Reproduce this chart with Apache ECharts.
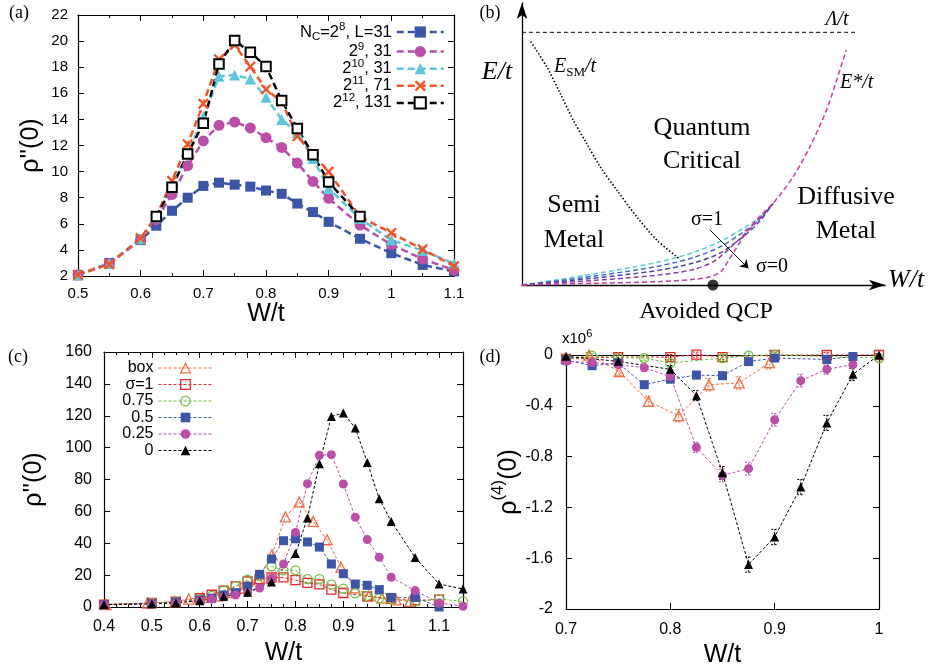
<!DOCTYPE html>
<html><head><meta charset="utf-8">
<script src="https://cdn.jsdelivr.net/npm/echarts@6/dist/echarts.min.js"></script>
<style>html,body{margin:0;padding:0;background:#fff}#c{width:928px;height:671px}</style>
</head><body><div id="c"></div>
<script>
// ================= DATA =================
// Panel (a): rho''(0) vs W/t
const aX = [0.5,0.55,0.6,0.625,0.65,0.675,0.7,0.725,0.75,0.775,0.8,0.825,0.85,0.875,0.9,0.95,1.0,1.05,1.1];
const aN8  = [2.05,3.0,4.75,5.85,7.0,8.0,8.9,9.15,9.0,8.85,8.55,8.3,7.55,6.9,6.15,4.85,3.75,2.85,2.35];
const aN9  = [2.1,2.95,4.8,6.3,8.25,10.45,12.35,13.55,13.8,13.35,12.6,11.85,10.65,9.25,7.95,5.9,4.4,3.3,2.45];
const aN10 = [2.1,2.95,4.85,6.5,8.8,11.4,14.2,17.3,17.4,17.1,15.7,14.0,13.0,11.0,8.7,6.4,4.75,3.95,2.95];
const aN11 = [2.1,2.9,4.9,6.6,9.3,12.1,15.2,18.6,19.7,18.05,16.3,15.35,12.7,11.3,10.0,6.55,5.3,4.05,2.75];
const aX12 = [0.625,0.65,0.675,0.7,0.725,0.75,0.775,0.8,0.825,0.85,0.875,0.9,0.95];
const aN12 = [6.55,8.8,11.35,13.7,18.25,20.05,19.15,18.05,15.45,13.3,11.3,9.2,6.55];

// Panel (b): schematic curves (normalised units)
const lamX = [0, 0.92], lamY = [0.896, 0.896];
const esmX = [0.024,0.068,0.105,0.141,0.178,0.215,0.261,0.316,0.371,0.431];
const esmY = [0.863,0.774,0.680,0.585,0.502,0.420,0.337,0.242,0.160,0.095];
const bs1X  = [0,0.105,0.196,0.288,0.380,0.472,0.545,0.610,0.656,0.692];
const bs1Y  = [0,0.020,0.039,0.059,0.083,0.115,0.154,0.201,0.242,0.290];
const bs075Y= [0,0.016,0.031,0.048,0.068,0.097,0.135,0.188,0.236,0.290];
const bs05Y = [0,0.012,0.024,0.037,0.053,0.078,0.113,0.172,0.228,0.290];
const bs025X= [0,0.105,0.196,0.288,0.380,0.472,0.530,0.580,0.640,0.692];
const bs025Y= [0,0.008,0.016,0.025,0.036,0.055,0.085,0.140,0.215,0.290];
const bs0X  = [0,0.196,0.380,0.472,0.520,0.550,0.567,0.590,0.620,0.656,0.692,0.747,0.793,0.839,0.867,0.893];
const bs0Y  = [0,0.006,0.012,0.020,0.030,0.050,0.083,0.130,0.190,0.245,0.290,0.384,0.490,0.621,0.727,0.833];
const arrowX = [0.518, 0.624], arrowY = [0.195, 0.059];
const qcpX = [0.526], qcpY = [0];

// Panel (c): rho''(0) vs W/t for different sigma
const cBoxX = [0.404,0.491,0.548,0.577,0.606,0.635,0.664,0.693,0.722,0.751,0.779,0.808,0.837,0.866,0.895,0.924,0.953,0.981,1.010,1.039];
const cBoxY = [1.5,2.5,3.3,5,6,7,9,12,17,32.8,56.5,65.9,53.7,42.2,25.1,12,7,5.6,4.5,3.5];
const cS1X  = [0.4,0.5,0.55,0.6,0.625,0.65,0.675,0.7,0.725,0.75,0.775,0.8,0.825,0.85,0.875,0.9,0.95,1.0,1.05,1.1];
const cS1Y  = [1.5,2.5,3.3,5.5,7.7,10.2,12.9,16,17.5,18.5,18.6,16.9,15.2,14.2,10.9,8.8,6.7,5.2,4.1,4.6];
const cS075X= [0.4,0.5,0.55,0.6,0.625,0.65,0.675,0.7,0.725,0.75,0.775,0.8,0.825,0.85,0.875,0.9,0.925,0.95,0.975,1.0,1.05,1.1,1.15];
const cS075Y= [1.5,2.5,3.3,5,7,10.4,12.9,17.1,19.5,25.5,23,23,17.5,17.5,14,11.5,8.5,7,5.5,5,3.5,5,3.5];
const cS05X = [0.4,0.5,0.55,0.6,0.625,0.65,0.675,0.7,0.725,0.75,0.775,0.8,0.825,0.85,0.875,0.9,0.925,0.95,0.975,1.0,1.05,1.1];
const cS05Y = [1.5,2,3,4.5,5.5,7.5,9,13,20.5,30.1,41.6,42.8,40.8,37.6,27,20.9,14.4,13.6,10.9,6,6,0];
const cS025X= [0.4,0.5,0.55,0.6,0.625,0.65,0.675,0.7,0.725,0.75,0.775,0.8,0.825,0.85,0.875,0.9,0.925,0.95,0.975,1.0,1.05,1.1,1.15];
const cS025Y= [1.5,2,2.5,4,5,6.3,7.5,9,11.9,18,27,46.8,77.4,95.2,95.6,77.2,56.3,42.3,31.2,18.7,10.3,2.5,0.5];
const cS0X  = [0.4,0.5,0.55,0.6,0.65,0.7,0.75,0.8,0.825,0.85,0.875,0.9,0.925,0.95,0.975,1.0,1.05,1.1,1.15];
const cS0Y  = [1.5,2,2.5,4,6.7,9.2,15.7,33.5,55.8,89.9,119.6,121.7,112.3,90.7,67.9,53.7,31.1,14.4,11.3];

// Panel (d): rho^(4)(0) (x10^6) vs W/t, with error bars
const dBoxX = [0.722,0.751,0.779,0.808,0.837,0.866,0.895];
const dBoxY = [0.0,-0.13,-0.365,-0.478,-0.234,-0.22,-0.06];
const dBoxE = [0.02,0.03,0.04,0.05,0.05,0.05,0.05];
const dS1X  = [0.7,0.75,0.8,0.825,0.85,0.9,0.95,1.0];
const dS1Y  = [-0.03,-0.016,-0.016,0.003,-0.016,0.0,0.0,0.0];
const dS1E  = [0.02,0.02,0.02,0.02,0.02,0.02,0.02,0.01];
const dS075X= [0.7,0.725,0.75,0.775,0.8,0.85,0.875,0.9,1.0];
const dS075Y= [-0.03,-0.005,-0.02,-0.024,-0.063,-0.024,-0.005,0.0,-0.024];
const dS075E= [0.02,0.02,0.02,0.02,0.02,0.02,0.02,0.02,0.01];
const dS05X = [0.7,0.725,0.75,0.775,0.8,0.825,0.85,0.875,0.9,0.95,0.975];
const dS05Y = [-0.04,-0.084,-0.063,-0.234,-0.19,-0.158,-0.163,-0.052,-0.024,-0.035,-0.012];
const dS05E = [0.02,0.02,0.02,0.03,0.03,0.03,0.03,0.02,0.02,0.02,0.02];
const dS025X= [0.7,0.725,0.75,0.775,0.8,0.825,0.85,0.875,0.9,0.925,0.95,0.975];
const dS025Y= [-0.05,-0.06,-0.075,-0.1,-0.17,-0.727,-0.948,-0.895,-0.51,-0.202,-0.112,-0.076];
const dS025E= [0.02,0.02,0.02,0.03,0.03,0.04,0.05,0.05,0.05,0.05,0.04,0.03];
const dS0X  = [0.7,0.75,0.8,0.825,0.85,0.875,0.9,0.925,0.95,0.975,1.0];
const dS0Y  = [-0.01,-0.05,-0.113,-0.32,-0.928,-1.65,-1.433,-1.04,-0.535,-0.152,0.0];
const dS0E  = [0.01,0.02,0.03,0.04,0.05,0.06,0.06,0.06,0.06,0.05,0.01];

// ================= STYLE =================
const FONT = 'Liberation Sans', SERIF = 'Liberation Serif';
const C_BLUE = '#3d55a6', C_MAG = '#b94fa6', C_CYAN = '#5ec6dc', C_ORG = '#f0552a', C_BLK = '#000';
const C_BOX = '#f26a3c', C_RED = '#e8262c', C_GRN = '#72bd42';
const B_COLS = ['#5cc8e0', '#3a6cc4', '#4a48a6', '#8c3fa8', '#c8389e'];
const XSYM = 'path://M0,1.5L1.5,0L5,3.5L8.5,0L10,1.5L6.5,5L10,8.5L8.5,10L5,6.5L1.5,10L0,8.5L3.5,5Z';

const pts = (xs, ys) => xs.map((x, i) => [x, ys[i]]);

function axisPair(dim, gridIndex, cfg) {
  const main = {
    type: 'value', gridIndex, min: cfg.min, max: cfg.max, interval: cfg.interval,
    position: dim === 'x' ? 'bottom' : 'left',
    axisLine: { show: true, onZero: false, lineStyle: { color: '#000', width: 1.2 } },
    axisTick: { show: true, inside: true, length: 6, lineStyle: { color: '#000', width: 1 } },
    minorTick: { show: !!cfg.minor, splitNumber: cfg.minor || 5, length: 3, lineStyle: { color: '#000', width: 1 } },
    axisLabel: { show: true, color: '#000', fontSize: cfg.fs, fontFamily: FONT, margin: cfg.margin, showMaxLabel: cfg.showMax !== false },
    splitLine: { show: false }, minorSplitLine: { show: false },
    name: cfg.name, nameLocation: 'middle', nameGap: cfg.nameGap,
    nameTextStyle: Object.assign({ color: '#000', fontFamily: FONT, fontSize: 25 }, cfg.nameStyle || {})
  };
  const mirror = {
    type: 'value', gridIndex, min: cfg.min, max: cfg.max, interval: cfg.interval,
    position: dim === 'x' ? 'top' : 'right',
    axisLine: { show: true, onZero: false, lineStyle: { color: '#000', width: 1.2 } },
    axisTick: { show: true, inside: true, length: 6, lineStyle: { color: '#000', width: 1 } },
    minorTick: { show: !!cfg.minor, splitNumber: cfg.minor || 5, length: 3, lineStyle: { color: '#000', width: 1 } },
    axisLabel: { show: false }, splitLine: { show: false }
  };
  return [main, mirror];
}

const bAxisCommon = {
  type: 'value', gridIndex: 1, min: 0, max: 1,
  axisLine: { show: true, onZero: false, symbol: ['none', 'arrow'], symbolSize: [8, 16], lineStyle: { color: '#000', width: 1.3 } },
  axisTick: { show: false }, axisLabel: { show: false }, splitLine: { show: false }
};

const xAxes = [].concat(
  axisPair('x', 0, { min: 0.5, max: 1.1, interval: 0.1, minor: 2, fs: 15, margin: 10, name: 'W/t', nameGap: 26 }),
  [Object.assign({}, bAxisCommon)],
  axisPair('x', 2, { min: 0.4, max: 1.15, interval: 0.1, minor: 4, fs: 16, margin: 12, showMax: false, name: 'W/t', nameGap: 34 }),
  axisPair('x', 3, { min: 0.7, max: 1.0, interval: 0.1, fs: 16, margin: 13, name: 'W/t', nameGap: 34 })
);
const yAxes = [].concat(
  axisPair('y', 0, { min: 2, max: 22, interval: 2, fs: 15, margin: 10, name: "ρ''(0)", nameGap: 34, nameStyle: { fontSize: 25 } }),
  [Object.assign({}, bAxisCommon)],
  axisPair('y', 2, { min: 0, max: 160, interval: 20, fs: 16, margin: 12, name: "ρ''(0)", nameGap: 57, nameStyle: { fontSize: 25 } }),
  axisPair('y', 3, { min: -2, max: 0, interval: 0.4, fs: 16, margin: 13, name: '{t|ρ}{s|(4)}{t|(0)}', nameGap: 44,
    nameStyle: { fontSize: 25, rich: {
      t: { fontSize: 25, fontFamily: FONT, color: '#000', lineHeight: 32, verticalAlign: 'bottom' },
      s: { fontSize: 17, fontFamily: FONT, color: '#000', lineHeight: 17, verticalAlign: 'top' } } } })
);

function lineA(name, xs, ys, color, symbol, size, extra) {
  return Object.assign({
    type: 'line', name, xAxisIndex: 0, yAxisIndex: 0, data: pts(xs, ys),
    symbol, symbolSize: size, showAllSymbol: true,
    lineStyle: { color, width: 2.5, type: [7, 4] },
    itemStyle: { color }
  }, extra || {});
}

function lineC(name, xs, ys, color, symbol, size, hollow, axis) {
  return {
    type: 'line', name, xAxisIndex: axis, yAxisIndex: axis, data: pts(xs, ys),
    symbol, symbolSize: size, showAllSymbol: true,
    lineStyle: { color, width: 1, type: [3, 2] },
    itemStyle: hollow ? { color: 'rgba(255,255,255,0)', borderColor: color, borderWidth: 1.3 } : { color }
  };
}

function errSeries(xs, ys, es, color) {
  return {
    type: 'custom', xAxisIndex: 5, yAxisIndex: 5, z: 1,
    data: xs.map((x, i) => [x, ys[i], es[i]]),
    encode: { x: 0, y: 1 },
    renderItem(params, api) {
      const x = api.value(0), y = api.value(1), e = api.value(2);
      const p0 = api.coord([x, y - e]), p1 = api.coord([x, y + e]);
      const w = 3.5, st = { stroke: color, lineWidth: 1, lineDash: [2, 1.5] };
      return { type: 'group', children: [
        { type: 'line', shape: { x1: p0[0], y1: p0[1], x2: p1[0], y2: p1[1] }, style: st },
        { type: 'line', shape: { x1: p0[0] - w, y1: p0[1], x2: p0[0] + w, y2: p0[1] }, style: st },
        { type: 'line', shape: { x1: p1[0] - w, y1: p1[1], x2: p1[0] + w, y2: p1[1] }, style: st }
      ] };
    }
  };
}

function bLine(xs, ys, color, type, width) {
  return { type: 'line', xAxisIndex: 2, yAxisIndex: 2, data: pts(xs, ys), symbol: 'none', smooth: 0.3,
    clip: false, silent: true, lineStyle: { color, width, type } };
}

const aLabels = {
  a1: '{t|N}{sub|C}{t|=2}{sup|8}{t|, L=31}',
  a2: '{t|2}{sup|9}{t|, 31}',
  a3: '{t|2}{sup|10}{t|, 31}',
  a4: '{t|2}{sup|11}{t|, 71}',
  a5: '{t|2}{sup|12}{t|, 131}'
};

const series = [
  // (a)
  lineA('a1', aX, aN8, C_BLUE, 'rect', 10),
  lineA('a2', aX, aN9, C_MAG, 'circle', 11),
  lineA('a3', aX, aN10, C_CYAN, 'triangle', 11),
  lineA('a4', aX, aN11, C_ORG, XSYM, 11),
  lineA('a5', aX12, aN12, C_BLK, 'emptyRect', 9.5),
  // (b)
  bLine(lamX, lamY, '#000', [4, 3], 1),
  bLine(esmX, esmY, '#000', [1.5, 2], 1.6),
  bLine(bs1X, bs1Y, B_COLS[0], [5, 3], 1.5),
  bLine(bs1X, bs075Y, B_COLS[1], [5, 3], 1.5),
  bLine(bs1X, bs05Y, B_COLS[2], [5, 3], 1.5),
  bLine(bs025X, bs025Y, B_COLS[3], [5, 3], 1.5),
  Object.assign(bLine(bs0X, bs0Y, B_COLS[4], [5, 3], 1.5), {
    markLine: { silent: true, symbol: ['none', 'arrow'], symbolSize: 8, label: { show: false },
      lineStyle: { color: '#000', type: 'solid', width: 1 },
      data: [[{ coord: [arrowX[0], arrowY[0]] }, { coord: [arrowX[1], arrowY[1]] }]] }
  }),
  { type: 'scatter', xAxisIndex: 2, yAxisIndex: 2, data: pts(qcpX, qcpY), symbolSize: 11, clip: false, silent: true, itemStyle: { color: '#000' } },
  // (c)
  lineC('box', cBoxX, cBoxY, C_BOX, 'triangle', 10, true, 3),
  lineC('σ=1', cS1X, cS1Y, C_RED, 'rect', 9, true, 3),
  lineC('0.75', cS075X, cS075Y, C_GRN, 'circle', 9, true, 3),
  lineC('0.5', cS05X, cS05Y, C_BLUE, 'rect', 9, false, 3),
  lineC('0.25', cS025X, cS025Y, C_MAG, 'circle', 9, false, 3),
  lineC('0', cS0X, cS0Y, C_BLK, 'triangle', 9, false, 3),
  // (d) error bars
  errSeries(dBoxX, dBoxY, dBoxE, C_BOX),
  errSeries(dS1X, dS1Y, dS1E, C_RED),
  errSeries(dS075X, dS075Y, dS075E, C_GRN),
  errSeries(dS05X, dS05Y, dS05E, C_BLUE),
  errSeries(dS025X, dS025Y, dS025E, C_MAG),
  errSeries(dS0X, dS0Y, dS0E, C_BLK),
  // (d) lines
  lineC('d-box', dBoxX, dBoxY, C_BOX, 'triangle', 10, true, 5),
  lineC('d-1', dS1X, dS1Y, C_RED, 'rect', 9, true, 5),
  lineC('d-0.75', dS075X, dS075Y, C_GRN, 'circle', 9, true, 5),
  lineC('d-0.5', dS05X, dS05Y, C_BLUE, 'rect', 9, false, 5),
  lineC('d-0.25', dS025X, dS025Y, C_MAG, 'circle', 9, false, 5),
  lineC('d-0', dS0X, dS0Y, C_BLK, 'triangle', 9, false, 5)
];
series.forEach(s => { if (s.type === 'line' && s.xAxisIndex === 5) s.clip = false; });

const txt = (x, y, text, size, opts) => ({
  type: 'text', x, y, silent: true,
  style: Object.assign({ text, fontSize: size, fontFamily: SERIF, fill: '#000', align: 'center', verticalAlign: 'middle' }, opts || {})
});

const option = {
  animation: false,
  backgroundColor: '#fff',
  textStyle: { fontFamily: FONT },
  grid: [
    { left: 78, top: 15, width: 376, height: 261 },
    { left: 522, top: 3, width: 363, height: 282 },
    { left: 104, top: 352, width: 359, height: 255 },
    { left: 566, top: 355, width: 313, height: 254 }
  ],
  xAxis: xAxes,
  yAxis: yAxes,
  legend: [
    {
      data: ['a1', 'a2', 'a3', 'a4', 'a5'], orient: 'vertical', align: 'right',
      right: 483, top: 21, padding: 0, itemGap: -2.4, itemWidth: 47, itemHeight: 14,
      selectedMode: false, lineStyle: { width: 2.5 },
      formatter: n => aLabels[n],
      textStyle: { color: '#000', fontFamily: FONT, rich: {
        t: { fontSize: 16.5, fontFamily: FONT, color: '#000', lineHeight: 22, verticalAlign: 'middle' },
        sup: { fontSize: 11.5, fontFamily: FONT, color: '#000', lineHeight: 8, verticalAlign: 'top' },
        sub: { fontSize: 11.5, fontFamily: FONT, color: '#000', lineHeight: 8, verticalAlign: 'bottom' } } }
    },
    {
      data: [
        { name: 'box', itemStyle: { borderWidth: 1.3 } },
        { name: 'σ=1', itemStyle: { borderWidth: 1.3 } },
        { name: '0.75', itemStyle: { borderWidth: 1.3 } },
        { name: '0.5' }, { name: '0.25' }, { name: '0' }
      ],
      orient: 'vertical', align: 'right', right: 715, top: 360, padding: 0, itemGap: 0.5,
      itemWidth: 54, itemHeight: 12, selectedMode: false, lineStyle: { width: 1 },
      textStyle: { color: '#000', fontFamily: FONT, fontSize: 16, lineHeight: 16 }
    }
  ],
  graphic: [
    txt(19, 13, '(a)', 18), txt(490, 13, '(b)', 18), txt(18, 357, '(c)', 18), txt(490, 357, '(d)', 18),
    txt(837, 20, 'Λ/t', 20, { fontStyle: 'italic' }),
    txt(840, 83, 'E*/t', 20, { fontStyle: 'italic', align: 'left' }),
    txt(497, 72, 'E/t', 26, { fontStyle: 'italic' }),
    txt(888, 280, 'W/t', 26, { fontStyle: 'italic', align: 'left' }),
    txt(554, 68, '{i|E}{s|SM}{i|/t}', 20, { align: 'left', rich: {
      i: { fontSize: 20, fontFamily: SERIF, fontStyle: 'italic', lineHeight: 22, verticalAlign: 'top' },
      s: { fontSize: 13, fontFamily: SERIF, lineHeight: 13, verticalAlign: 'bottom' } } }),
    txt(702, 128, 'Quantum', 26), txt(702, 161, 'Critical', 26),
    txt(574, 205, 'Semi', 26), txt(574, 240, 'Metal', 26),
    txt(846, 197, 'Diffusive', 26), txt(846, 231, 'Metal', 26),
    txt(707, 220, 'σ=1', 20), txt(772, 267, 'σ=0', 20),
    txt(706, 312, 'Avoided QCP', 24),
    { type: 'text', x: 562, y: 337, silent: true, style: {
      text: '{t|x10}{s|6}', align: 'left', verticalAlign: 'middle', fill: '#000', rich: {
        t: { fontSize: 15, fontFamily: FONT, color: '#000', lineHeight: 18, verticalAlign: 'bottom' },
        s: { fontSize: 11, fontFamily: FONT, color: '#000', lineHeight: 9, verticalAlign: 'top' } } } }
  ],
  series
};

const chart = echarts.init(document.getElementById('c'), null, { renderer: 'canvas' });
chart.setOption(option);
</script>
</body></html>
